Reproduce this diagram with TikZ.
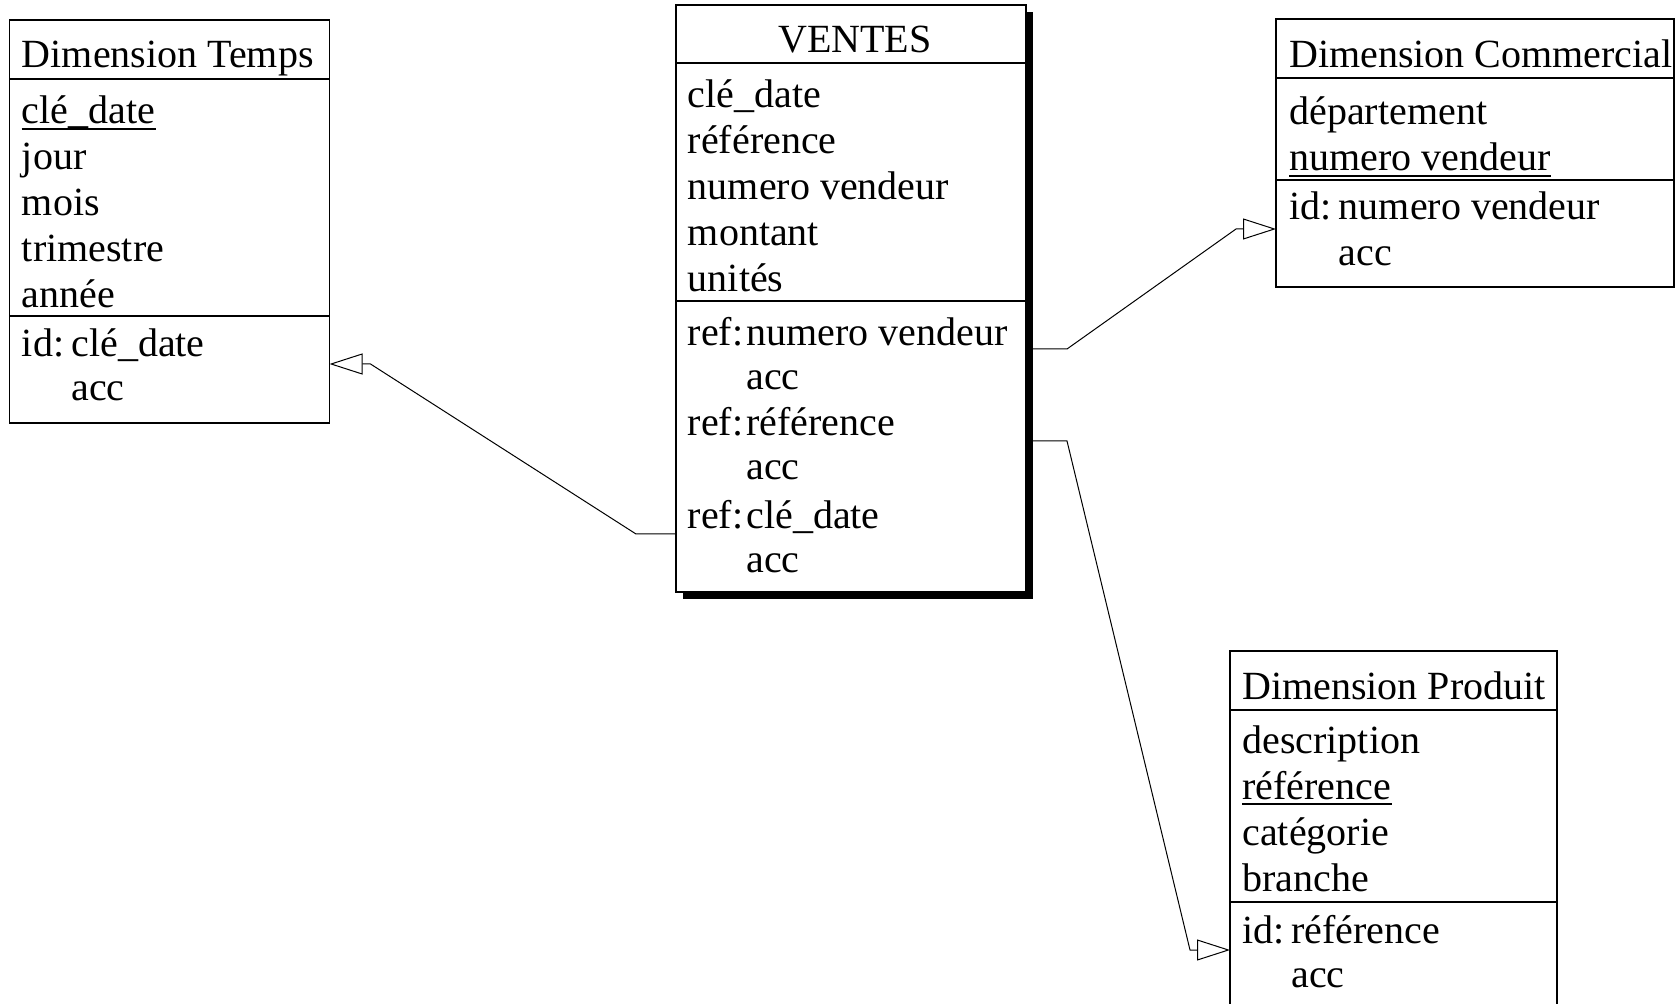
\documentclass[tikz,border=0pt]{standalone}
\usepackage{fontspec}
\setmainfont{Liberation Serif}
\usetikzlibrary{arrows.meta}

\tikzset{
  attr/.style={anchor=base west, inner sep=0pt, yshift=-1.5pt, font=\fontsize{20}{23}\selectfont},
  tbl/.style={draw, line width=0.6pt, fill=white},
  sep/.style={line width=0.6pt},
  souligne/.style={line width=0.8pt},
  lien/.style={line width=0.5pt, -{Triangle[open, length=16.5pt, width=10.5pt]}},
}

\begin{document}
\begin{tikzpicture}[x=0.5pt, y=-0.5pt]
	\useasboundingbox (0,0) rectangle (1679,1004);
	\clip (0,0) rectangle (1679,1004);

	% Dimension Temps
	\draw[tbl] (9.5,20) rectangle (329.5,423);
	\draw[sep] (9.5,79) -- (329.5,79);
	\draw[sep] (9.5,316) -- (329.5,316);
	\node[attr] (temps) at (21.5,65) {Dimension Temps};
	\foreach \t [count=\i] in {clé\_date, jour, mois, trimestre, année}{
		\node[attr] (temps-a\i) at (21.5,{121+46*(\i-1)}) {\t};
	}
	\draw[souligne] ([yshift=-2.6pt]temps-a1.base west) -- ([yshift=-2.6pt]temps-a1.base east);
	\node[attr] (temps-id) at (21.5,354) {id:};
	\node[attr] (temps-k1) at (71,354) {clé\_date};
	\node[attr] (temps-k2) at (71,398) {acc};
	\coordinate (temps-lien) at (329.5,364);

	% VENTES (avec ombre)
	\fill (683,12) rectangle (1033,599);
	\draw[tbl] (676,5) rectangle (1026,592);
	\draw[sep] (676,63) -- (1026,63);
	\draw[sep] (676,301) -- (1026,301);
	\node[attr, anchor=base] (ventes) at (855,50) {VENTES};
	\foreach \t [count=\i] in {clé\_date, référence, numero vendeur, montant, unités}{
		\node[attr] (ventes-a\i) at (687.5,{105+46*(\i-1)}) {\t};
	}
	\foreach \t/\y [count=\i] in {numero vendeur/343, référence/433, clé\_date/526}{
		\node[attr] (ventes-ref\i) at (687.5,\y) {ref:};
		\node[attr] (ventes-r\i) at (746,\y) {\t};
		\node[attr] (ventes-acc\i) at (746,\y+44) {acc};
	}
	\coordinate (ventes-l1) at (1033,349);
	\coordinate (ventes-l2) at (1033,441);
	\coordinate (ventes-l3) at (676,534);

	% Dimension Commercial
	\draw[tbl] (1276,19) rectangle (1674,287);
	\draw[sep] (1276,78) -- (1674,78);
	\draw[sep] (1276,180) -- (1674,180);
	\node[attr] (comm) at (1289,65) {Dimension Commercial};
	\node[attr] (comm-a1) at (1289,122) {département};
	\node[attr] (comm-a2) at (1289,168) {numero vendeur};
	\draw[souligne] ([yshift=-2.6pt]comm-a2.base west) -- ([yshift=-2.6pt]comm-a2.base east);
	\node[attr] (comm-id) at (1289,217) {id:};
	\node[attr] (comm-k1) at (1338.5,217) {numero vendeur};
	\node[attr] (comm-k2) at (1338.5,263) {acc};
	\coordinate (comm-lien) at (1276,229);

	% Dimension Produit
	\draw[tbl] (1230,651) rectangle (1557,1020);
	\draw[sep] (1230,710) -- (1557,710);
	\draw[sep] (1230,902) -- (1557,902);
	\node[attr] (prod) at (1242,696) {Dimension Produit};
	\foreach \t [count=\i] in {description, référence, catégorie, branche}{
		\node[attr] (prod-a\i) at (1242,{750+46*(\i-1)}) {\t};
	}
	\draw[souligne] ([yshift=-2.6pt]prod-a2.base west) -- ([yshift=-2.6pt]prod-a2.base east);
	\node[attr] (prod-id) at (1242,940) {id:};
	\node[attr] (prod-k1) at (1291,940) {référence};
	\node[attr] (prod-k2) at (1291,984) {acc};
	\coordinate (prod-lien) at (1230,950);

	% liens
	\draw[lien] (ventes-l3) -- ++(-40,0) -- ([xshift=20.5pt]temps-lien) -- (temps-lien);
	\draw[lien] (ventes-l1) -- ++(34,0) -- ([xshift=-20pt]comm-lien) -- (comm-lien);
	\draw[lien] (ventes-l2) -- ++(34,0) -- ([xshift=-20pt]prod-lien) -- (prod-lien);
\end{tikzpicture}
\end{document}
